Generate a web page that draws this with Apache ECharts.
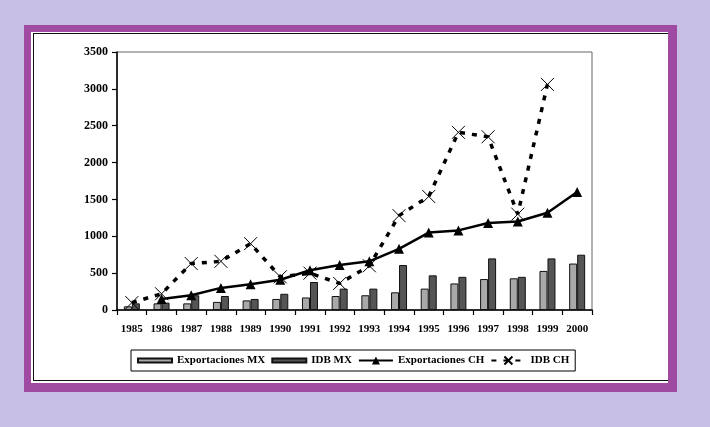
<!DOCTYPE html>
<html>
<head>
<meta charset="utf-8">
<script src="https://cdn.jsdelivr.net/npm/echarts@6/dist/echarts.min.js"></script>
<style>
  html, body { margin: 0; padding: 0; width: 710px; height: 427px; background: #c8bfe5; overflow: hidden; }
  #frame { position: absolute; left: 24px; top: 25px; width: 653px; height: 367px; background: #a04ba2; }
  #paper { position: absolute; left: 31px; top: 32px; width: 637px; height: 351px; background: #fff; }
  #inner { position: absolute; left: 33px; top: 33px; width: 635px; height: 348px; border-left: 1px solid #111; border-top: 1.5px solid #111; border-bottom: 1.5px solid #111; box-sizing: border-box; }
  #chart { position: absolute; left: 0; top: 0; width: 710px; height: 427px; }
</style>
</head>
<body>
<div id="frame"></div>
<div id="paper"></div>
<div id="inner"></div>
<div id="chart"></div>
<script>
const years = ['1985','1986','1987','1988','1989','1990','1991','1992','1993','1994','1995','1996','1997','1998','1999','2000'];
const exportMX = [50, 90, 90, 110, 130, 150, 170, 190, 200, 240, 290, 360, 420, 430, 530, 630];
const idbMX    = [90, 100, 200, 190, 150, 220, 380, 290, 290, 610, 470, 450, 700, 450, 700, 750];
const exportCH = [null, 150, 200, 300, 350, 410, 540, 610, 660, 830, 1050, 1080, 1180, 1200, 1320, 1600];
const idbCH    = [100, 220, 630, 660, 900, 450, 500, 360, 600, 1280, 1540, 2410, 2350, 1300, 3060, null];
const yTicks = { min: 0, max: 3500, interval: 500 };

const font = 'Liberation Serif';
const chart = echarts.init(document.getElementById('chart'), null, { renderer: 'canvas' });
chart.setOption({
  animation: false,
  backgroundColor: 'transparent',
  textStyle: { fontFamily: font },
  grid: { left: 117, right: 118, top: 52, bottom: 117, show: true, borderColor: '#666', borderWidth: 1, backgroundColor: 'transparent' },
  legend: {
    data: [
      { name: 'Exportaciones MX', icon: 'path://M0,0H34V4H0Z' },
      { name: 'IDB MX', icon: 'path://M0,0H34V4H0Z' },
      'Exportaciones CH',
      'IDB CH'
    ],
    left: 131, top: 350,
    itemWidth: 34, itemHeight: 10, itemGap: 6,
    padding: [5, 6],
    borderColor: '#000', borderWidth: 1,
    textStyle: { fontFamily: font, fontWeight: 'bold', fontSize: 11, color: '#000' }
  },
  xAxis: {
    type: 'category',
    data: years,
    boundaryGap: true,
    axisLine: { lineStyle: { color: '#000', width: 1.5 } },
    axisTick: { show: true, interval: 0, length: 5, lineStyle: { color: '#000', width: 1.2 } },
    axisLabel: { interval: 0, margin: 14, color: '#000', fontFamily: font, fontWeight: 'bold', fontSize: 11 },
    splitLine: { show: false }
  },
  yAxis: {
    type: 'value',
    min: yTicks.min, max: yTicks.max, interval: yTicks.interval,
    axisLine: { show: true, lineStyle: { color: '#000', width: 1.5 } },
    axisTick: { show: true, length: 5, lineStyle: { color: '#000', width: 1.2 } },
    axisLabel: { margin: 9, color: '#000', fontFamily: font, fontWeight: 'bold', fontSize: 12, formatter: function (v) { return String(v); } },
    splitLine: { show: false }
  },
  series: [
    {
      name: 'Exportaciones MX', type: 'bar', data: exportMX,
      barWidth: 8, barGap: '0%',
      itemStyle: { color: '#a9a9a9', borderColor: '#111', borderWidth: 1 },
      z: 2
    },
    {
      name: 'IDB MX', type: 'bar', data: idbMX,
      barWidth: 8, barGap: '0%',
      itemStyle: { color: '#555555', borderColor: '#111', borderWidth: 1 },
      z: 2
    },
    {
      name: 'Exportaciones CH', type: 'line', data: exportCH,
      symbol: 'triangle', symbolSize: 10,
      lineStyle: { color: '#000', width: 2.5 },
      itemStyle: { color: '#000' },
      z: 4
    },
    {
      name: 'IDB CH', type: 'line', data: idbCH,
      symbol: 'path://M0,0L10,10M10,0L0,10', symbolSize: 13,
      lineStyle: { color: '#000', width: 3.5, type: [5, 7], cap: 'butt' },
      itemStyle: { color: 'rgba(0,0,0,0)', borderColor: '#000', borderWidth: 1 },
      z: 5
    }
  ]
});
</script>
</body>
</html>
